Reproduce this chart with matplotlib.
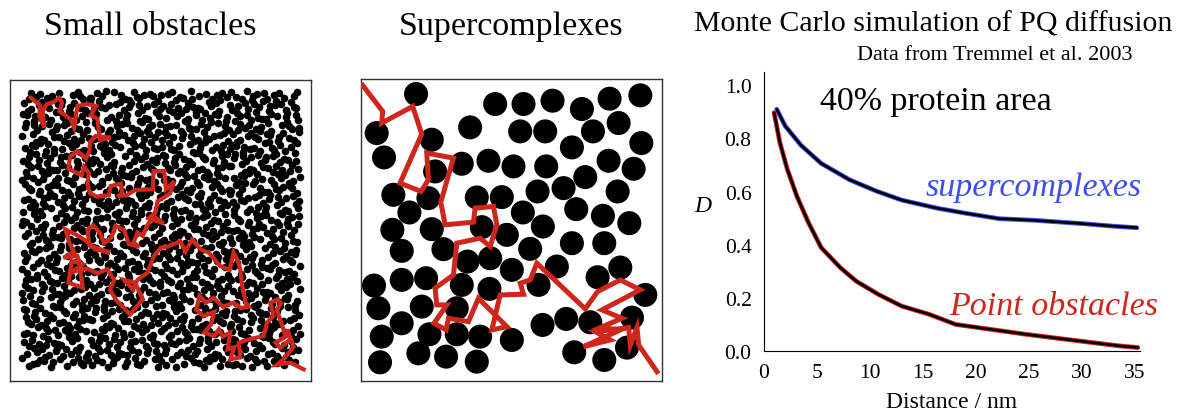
import numpy as np
import matplotlib
matplotlib.use('Agg')
import matplotlib.pyplot as plt
from matplotlib.patches import Circle

plt.rcParams['font.family'] = ['Liberation Serif', 'DejaVu Serif']

# Monte Carlo curves (Tremmel et al. 2003), D vs distance in nm
super_x = [1.2, 2.0, 3.5, 5.4, 8.1, 10.6, 13.0, 16.4, 19.1, 22.2, 25.5, 30.2, 32.9, 35.2]
super_d = [0.91, 0.847, 0.774, 0.706, 0.644, 0.602, 0.568, 0.537, 0.518, 0.498, 0.492, 0.479, 0.470, 0.464]
point_x = [0.95, 1.5, 2.2, 3.1, 4.2, 5.4, 7.2, 8.7, 10.8, 13.0, 15.6, 18.1, 21.3, 24.7, 28.5, 33.6, 35.3]
point_d = [0.897, 0.784, 0.684, 0.583, 0.483, 0.389, 0.314, 0.263, 0.213, 0.169, 0.138, 0.100,
           0.082, 0.063, 0.044, 0.019, 0.013]
x_ticks = [0, 5, 10, 15, 20, 25, 30, 35]
y_ticks = [0.0, 0.2, 0.4, 0.6, 0.8, 1.0]

# supercomplex centres (picture units, panel is 33..935 x 30..935, y down)
sc_x = [198, 435, 520, 607, 695, 778, 870,
        80, 360, 245, 510, 585, 728, 805, 873, 665,
        102, 255, 335, 415, 490, 588, 775, 850, 705,
        130, 235, 380, 455, 562, 640, 802,
        178, 127, 245, 395, 470, 518, 678, 758, 837, 578,
        155, 280, 352, 420, 485, 540, 665, 762, 620,
        72, 155, 228, 335, 418, 565, 742, 810, 885,
        85, 215, 320, 155, 238, 320, 390, 95, 485, 577, 648, 720, 845,
        90, 205, 288, 380, 672, 762, 830]
sc_y = [75, 105, 105, 95, 120, 89, 79,
        192, 175, 212, 187, 187, 187, 162, 222, 235,
        265, 307, 284, 275, 292, 292, 275, 299, 324,
        377, 387, 385, 384, 367, 357, 367,
        430, 482, 480, 474, 497, 430, 420, 440, 462, 472,
        545, 540, 577, 567, 602, 539, 522, 522, 592,
        649, 632, 627, 647, 659, 647, 624, 595, 677,
        717, 712, 717, 762, 795, 795, 802, 802, 812, 767, 749, 759, 745,
        879, 852, 862, 877, 849, 872, 835]

# walk through supercomplexes
walk_sc = [(38, 49), (98, 127), (95, 162), (188, 112), (215, 195), (150, 342), (213, 367),
           (235, 332), (230, 252), (310, 267), (272, 399), (285, 467), (370, 459), (375, 417),
           (430, 412), (440, 467), (420, 532), (390, 507), (320, 522), (310, 617), (255, 657),
           (260, 707), (290, 707), (252, 762), (288, 782), (295, 747), (355, 757), (385, 687),
           (470, 772), (425, 782), (450, 677), (520, 675), (510, 642), (540, 632), (560, 582),
           (705, 719), (742, 667), (810, 632), (870, 662), (755, 722), (815, 747), (750, 775),
           (810, 782), (700, 832), (780, 812), (735, 787), (835, 775), (840, 827), (860, 775),
           (865, 827), (920, 907)]

# walk through small obstacles (picture units, panel is 30..932 x 32..935, y down)
walk_small = [(92, 85), (120, 108), (118, 140), (133, 175), (128, 125), (140, 105), (160, 98),
              (178, 86), (186, 100), (178, 125), (212, 150), (222, 175), (232, 110), (262, 104),
              (288, 110), (272, 138), (292, 148), (296, 185), (300, 212), (332, 205), (286, 200),
              (270, 218), (268, 245), (258, 268), (232, 245), (210, 262), (205, 298), (245, 318),
              (252, 292), (266, 310), (262, 345), (270, 372), (290, 382), (326, 378), (332, 350),
              (362, 343), (366, 372), (352, 382), (382, 376), (405, 362), (458, 360), (460, 305),
              (492, 305), (497, 360), (522, 336), (510, 372), (494, 382), (472, 396), (466, 430),
              (446, 447), (490, 462), (460, 440), (440, 470), (428, 500), (412, 490), (400, 520),
              (418, 532), (386, 524), (372, 482), (346, 470), (334, 505), (312, 522), (300, 492),
              (280, 468), (262, 482), (268, 528), (330, 550), (285, 540), (258, 515), (232, 498),
              (196, 480), (208, 520), (222, 548), (190, 565), (232, 560), (245, 600), (212, 610),
              (248, 585), (215, 575), (205, 640), (248, 655), (240, 600), (262, 598), (292, 612),
              (322, 600), (342, 632), (330, 662), (348, 692), (390, 735), (428, 690), (405, 640),
              (372, 632), (398, 660), (412, 632), (442, 610), (460, 562), (482, 535), (502, 532),
              (540, 516), (556, 546), (576, 510), (600, 540), (626, 550), (660, 590), (688, 602),
              (700, 550), (712, 572), (720, 600), (726, 650), (736, 700), (746, 712), (722, 716),
              (700, 700), (668, 712), (640, 686), (618, 700), (598, 680), (588, 722), (610, 740),
              (642, 728), (632, 766), (612, 790), (642, 800), (656, 780), (668, 802), (690, 790),
              (682, 840), (702, 834), (690, 870), (720, 864), (716, 820), (746, 810), (790, 800),
              (800, 760), (820, 740), (810, 700), (832, 690), (842, 702), (830, 722), (846, 770),
              (856, 802), (826, 820), (840, 836), (870, 810), (860, 780), (880, 832), (850, 870),
              (830, 886), (870, 880), (910, 900)]

n_obstacles = 1600

RED = '#cf261c'
BLUE = '#3e4ef2'


def halton(i, b):
    f, r = 1.0, 0.0
    while i > 0:
        f /= b
        r += f * (i % b)
        i //= b
    return r


fig = plt.figure(figsize=(11.86, 4.14), dpi=100)

# --- small obstacles panel
ax1 = fig.add_axes([10 / 1186, 32 / 414, 301 / 1186, 301 / 414])
idx = np.arange(20, 20 + n_obstacles)
ox = [65 + 835 * halton(int(i), 2) for i in idx]
oy = [65 + 830 * halton(int(i), 3) for i in idx]
ax1.scatter(ox, oy, s=30, c='black', linewidths=0, zorder=2)
wx, wy = zip(*walk_small)
ax1.plot(wx, wy, color=RED, lw=3.0, solid_joinstyle='miter', zorder=3)
ax1.set_xlim(30, 932)
ax1.set_ylim(935, 32)

# --- supercomplex panel
ax2 = fig.add_axes([361 / 1186, 32 / 414, 301 / 1186, 302 / 414])
for cx, cy in zip(sc_x, sc_y):
    ax2.add_patch(Circle((cx, cy), 36, color='black', lw=0, zorder=2))
wx, wy = zip(*walk_sc)
ax2.plot(wx, wy, color=RED, lw=3.6, solid_joinstyle='miter', zorder=3)
ax2.set_xlim(33, 935)
ax2.set_ylim(935, 30)

for a in (ax1, ax2):
    a.set_xticks([])
    a.set_yticks([])
    for s in a.spines.values():
        s.set_color('#333333')
        s.set_linewidth(1.0)

fig.text(150 / 1186, 1 - 27 / 414, 'Small obstacles', ha='center', va='center', fontsize=24.5)
fig.text(511 / 1186, 1 - 27 / 414, 'Supercomplexes', ha='center', va='center', fontsize=24.5)

# --- chart panel
ax3 = fig.add_axes([764 / 1186, 62 / 414, 376 / 1186, 279 / 414])
ax3.plot(super_x, super_d, color=BLUE, lw=3.4, solid_capstyle='round')
ax3.plot(super_x, super_d, color='black', lw=1.9, solid_capstyle='round')
ax3.plot(point_x, point_d, color=RED, lw=3.4, solid_capstyle='round')
ax3.plot(point_x, point_d, color='black', lw=1.9, solid_capstyle='round')
ax3.set_xlim(0, 35.5)
ax3.set_ylim(0, 1.05)
ax3.set_xticks(x_ticks)
ax3.set_yticks(y_ticks)
ax3.set_yticklabels(['%.1f' % v for v in y_ticks])
ax3.tick_params(length=0, labelsize=15.5, pad=9)
ax3.spines['top'].set_visible(False)
ax3.spines['right'].set_visible(False)
ax3.set_xlabel('Distance / nm', fontsize=17, labelpad=6)
ax3.set_ylabel('D', fontsize=17, style='italic', rotation=0)
ax3.yaxis.set_label_coords(-0.162, 0.484)

ax3.text(5.3, 0.94, '40% protein area', fontsize=24.5, ha='left', va='center')
ax3.text(35.7, 0.617, 'supercomplexes', fontsize=24.5, style='italic', color=BLUE,
         ha='right', va='center')
ax3.text(37.2, 0.169, 'Point obstacles', fontsize=24.5, style='italic', color=RED,
         ha='right', va='center')

fig.text(933 / 1186, 1 - 25 / 414, 'Monte Carlo simulation of PQ diffusion', ha='center',
         va='center', fontsize=21.5)
fig.text(995 / 1186, 1 - 56 / 414, 'Data from Tremmel et al. 2003', ha='center',
         va='center', fontsize=16)

fig.savefig('out.png', dpi=100)
